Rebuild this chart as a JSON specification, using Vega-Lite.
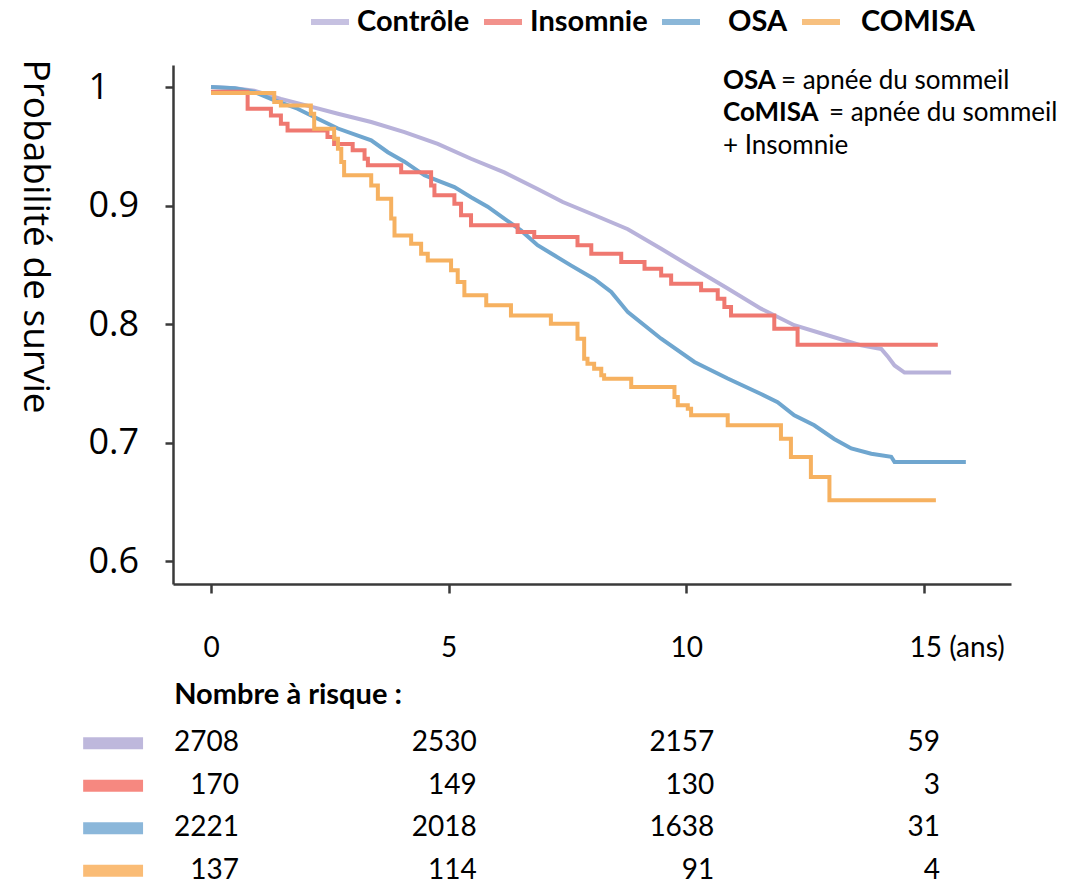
{
  "$schema": "https://vega.github.io/schema/vega-lite/v6.json",
  "background": "white",
  "padding": {"left": 15, "top": 0, "right": 5, "bottom": 0},
  "config": {"view": {"stroke": null}, "font": "Lato"},
  "spacing": 19,
  "resolve": {"scale": {"x": "independent", "y": "independent", "color": "independent"}, "legend": {"color": "independent"}},
  "datasets": {
    "curves": [
      {"group": "Contrôle", "t": 0, "s": 1.0},
      {"group": "Contrôle", "t": 0.5, "s": 0.999},
      {"group": "Contrôle", "t": 0.91, "s": 0.997},
      {"group": "Contrôle", "t": 1.47, "s": 0.990},
      {"group": "Contrôle", "t": 1.96, "s": 0.985},
      {"group": "Contrôle", "t": 2.67, "s": 0.9775},
      {"group": "Contrôle", "t": 3.37, "s": 0.9705},
      {"group": "Contrôle", "t": 4.07, "s": 0.962},
      {"group": "Contrôle", "t": 4.77, "s": 0.952},
      {"group": "Contrôle", "t": 5.47, "s": 0.9395},
      {"group": "Contrôle", "t": 6.17, "s": 0.928},
      {"group": "Contrôle", "t": 6.87, "s": 0.914},
      {"group": "Contrôle", "t": 7.4, "s": 0.903},
      {"group": "Contrôle", "t": 8.06, "s": 0.892},
      {"group": "Contrôle", "t": 8.77, "s": 0.880},
      {"group": "Contrôle", "t": 9.47, "s": 0.8635},
      {"group": "Contrôle", "t": 10.17, "s": 0.8467},
      {"group": "Contrôle", "t": 10.87, "s": 0.830},
      {"group": "Contrôle", "t": 11.57, "s": 0.813},
      {"group": "Contrôle", "t": 12.27, "s": 0.799},
      {"group": "Contrôle", "t": 12.97, "s": 0.7905},
      {"group": "Contrôle", "t": 13.68, "s": 0.782},
      {"group": "Contrôle", "t": 14.1, "s": 0.779},
      {"group": "Contrôle", "t": 14.25, "s": 0.772},
      {"group": "Contrôle", "t": 14.38, "s": 0.765},
      {"group": "Contrôle", "t": 14.59, "s": 0.759},
      {"group": "Contrôle", "t": 15.57, "s": 0.759},
      {"group": "OSA", "t": 0, "s": 1.0},
      {"group": "OSA", "t": 0.5, "s": 0.999},
      {"group": "OSA", "t": 0.91, "s": 0.9958},
      {"group": "OSA", "t": 1.26, "s": 0.990},
      {"group": "OSA", "t": 1.82, "s": 0.9817},
      {"group": "OSA", "t": 2.17, "s": 0.9747},
      {"group": "OSA", "t": 2.67, "s": 0.965},
      {"group": "OSA", "t": 3.09, "s": 0.959},
      {"group": "OSA", "t": 3.37, "s": 0.955},
      {"group": "OSA", "t": 3.72, "s": 0.945},
      {"group": "OSA", "t": 4.07, "s": 0.937},
      {"group": "OSA", "t": 4.49, "s": 0.9255},
      {"group": "OSA", "t": 4.77, "s": 0.921},
      {"group": "OSA", "t": 5.12, "s": 0.9156},
      {"group": "OSA", "t": 5.47, "s": 0.907},
      {"group": "OSA", "t": 5.82, "s": 0.899},
      {"group": "OSA", "t": 6.17, "s": 0.889},
      {"group": "OSA", "t": 6.52, "s": 0.879},
      {"group": "OSA", "t": 6.87, "s": 0.8665},
      {"group": "OSA", "t": 7.22, "s": 0.858},
      {"group": "OSA", "t": 7.57, "s": 0.8495},
      {"group": "OSA", "t": 8.06, "s": 0.838},
      {"group": "OSA", "t": 8.42, "s": 0.827},
      {"group": "OSA", "t": 8.77, "s": 0.810},
      {"group": "OSA", "t": 9.47, "s": 0.7876},
      {"group": "OSA", "t": 10.17, "s": 0.768},
      {"group": "OSA", "t": 10.87, "s": 0.754},
      {"group": "OSA", "t": 11.57, "s": 0.741},
      {"group": "OSA", "t": 11.92, "s": 0.734},
      {"group": "OSA", "t": 12.27, "s": 0.723},
      {"group": "OSA", "t": 12.69, "s": 0.7145},
      {"group": "OSA", "t": 13.11, "s": 0.703},
      {"group": "OSA", "t": 13.47, "s": 0.695},
      {"group": "OSA", "t": 13.89, "s": 0.6905},
      {"group": "OSA", "t": 14.31, "s": 0.688},
      {"group": "OSA", "t": 14.38, "s": 0.6835},
      {"group": "OSA", "t": 15.88, "s": 0.6835},
      {"group": "Insomnie", "t": 0, "s": 0.996},
      {"group": "Insomnie", "t": 0.77, "s": 0.9817},
      {"group": "Insomnie", "t": 1.26, "s": 0.976},
      {"group": "Insomnie", "t": 1.47, "s": 0.969},
      {"group": "Insomnie", "t": 1.61, "s": 0.9634},
      {"group": "Insomnie", "t": 2.45, "s": 0.9578},
      {"group": "Insomnie", "t": 2.59, "s": 0.952},
      {"group": "Insomnie", "t": 2.98, "s": 0.9466},
      {"group": "Insomnie", "t": 3.23, "s": 0.9395},
      {"group": "Insomnie", "t": 3.30, "s": 0.934},
      {"group": "Insomnie", "t": 4.0, "s": 0.928},
      {"group": "Insomnie", "t": 4.63, "s": 0.917},
      {"group": "Insomnie", "t": 4.70, "s": 0.9086},
      {"group": "Insomnie", "t": 5.12, "s": 0.9016},
      {"group": "Insomnie", "t": 5.26, "s": 0.8917},
      {"group": "Insomnie", "t": 5.47, "s": 0.8833},
      {"group": "Insomnie", "t": 6.45, "s": 0.8776},
      {"group": "Insomnie", "t": 6.80, "s": 0.8734},
      {"group": "Insomnie", "t": 7.71, "s": 0.8664},
      {"group": "Insomnie", "t": 8.0, "s": 0.8594},
      {"group": "Insomnie", "t": 8.63, "s": 0.8523},
      {"group": "Insomnie", "t": 9.12, "s": 0.8467},
      {"group": "Insomnie", "t": 9.47, "s": 0.841},
      {"group": "Insomnie", "t": 9.68, "s": 0.834},
      {"group": "Insomnie", "t": 10.31, "s": 0.8284},
      {"group": "Insomnie", "t": 10.66, "s": 0.8214},
      {"group": "Insomnie", "t": 10.80, "s": 0.8143},
      {"group": "Insomnie", "t": 10.94, "s": 0.8073},
      {"group": "Insomnie", "t": 11.85, "s": 0.796},
      {"group": "Insomnie", "t": 12.34, "s": 0.7825},
      {"group": "Insomnie", "t": 15.29, "s": 0.7825},
      {"group": "COMISA", "t": 0, "s": 0.995},
      {"group": "COMISA", "t": 1.33, "s": 0.9873},
      {"group": "COMISA", "t": 1.47, "s": 0.9845},
      {"group": "COMISA", "t": 2.10, "s": 0.9775},
      {"group": "COMISA", "t": 2.17, "s": 0.9648},
      {"group": "COMISA", "t": 2.59, "s": 0.9564},
      {"group": "COMISA", "t": 2.67, "s": 0.948},
      {"group": "COMISA", "t": 2.74, "s": 0.9367},
      {"group": "COMISA", "t": 2.80, "s": 0.9255},
      {"group": "COMISA", "t": 3.37, "s": 0.917},
      {"group": "COMISA", "t": 3.51, "s": 0.9058},
      {"group": "COMISA", "t": 3.79, "s": 0.889},
      {"group": "COMISA", "t": 3.86, "s": 0.8748},
      {"group": "COMISA", "t": 4.21, "s": 0.8678},
      {"group": "COMISA", "t": 4.42, "s": 0.8594},
      {"group": "COMISA", "t": 4.56, "s": 0.8537},
      {"group": "COMISA", "t": 5.05, "s": 0.8453},
      {"group": "COMISA", "t": 5.19, "s": 0.8354},
      {"group": "COMISA", "t": 5.33, "s": 0.8242},
      {"group": "COMISA", "t": 5.79, "s": 0.8158},
      {"group": "COMISA", "t": 6.31, "s": 0.8073},
      {"group": "COMISA", "t": 7.15, "s": 0.8003},
      {"group": "COMISA", "t": 7.71, "s": 0.7876},
      {"group": "COMISA", "t": 7.85, "s": 0.7707},
      {"group": "COMISA", "t": 7.92, "s": 0.7665},
      {"group": "COMISA", "t": 8.06, "s": 0.7623},
      {"group": "COMISA", "t": 8.21, "s": 0.7567},
      {"group": "COMISA", "t": 8.27, "s": 0.7538},
      {"group": "COMISA", "t": 8.84, "s": 0.7468},
      {"group": "COMISA", "t": 9.75, "s": 0.7384},
      {"group": "COMISA", "t": 9.82, "s": 0.7314},
      {"group": "COMISA", "t": 10.03, "s": 0.7285},
      {"group": "COMISA", "t": 10.10, "s": 0.7230},
      {"group": "COMISA", "t": 10.87, "s": 0.7145},
      {"group": "COMISA", "t": 11.99, "s": 0.7032},
      {"group": "COMISA", "t": 12.20, "s": 0.6878},
      {"group": "COMISA", "t": 12.62, "s": 0.6709},
      {"group": "COMISA", "t": 13.01, "s": 0.6512},
      {"group": "COMISA", "t": 15.25, "s": 0.6512}
    ],
    "risk": [
      {"group": "Contrôle", "year": 0, "n": 2708},
      {"group": "Contrôle", "year": 5, "n": 2530},
      {"group": "Contrôle", "year": 10, "n": 2157},
      {"group": "Contrôle", "year": 15, "n": 59},
      {"group": "Insomnie", "year": 0, "n": 170},
      {"group": "Insomnie", "year": 5, "n": 149},
      {"group": "Insomnie", "year": 10, "n": 130},
      {"group": "Insomnie", "year": 15, "n": 3},
      {"group": "OSA", "year": 0, "n": 2221},
      {"group": "OSA", "year": 5, "n": 2018},
      {"group": "OSA", "year": 10, "n": 1638},
      {"group": "OSA", "year": 15, "n": 31},
      {"group": "COMISA", "year": 0, "n": 137},
      {"group": "COMISA", "year": 5, "n": 114},
      {"group": "COMISA", "year": 10, "n": 91},
      {"group": "COMISA", "year": 15, "n": 4}
    ]
  },
  "vconcat": [
    {
      "width": 838,
      "height": 519,
      "layer": [
        {
          "data": {"name": "curves"},
          "transform": [{"filter": "datum.group == 'Contrôle' || datum.group == 'OSA'"}],
          "mark": {"type": "line", "interpolate": "linear", "strokeWidth": 4},
          "encoding": {
            "x": {"field": "t", "type": "quantitative",
              "scale": {"domain": [-0.8, 16.83], "nice": false, "zero": false},
              "axis": {"values": [0, 5, 10, 15], "title": null, "grid": false,
                "domainColor": "#3a3a3a", "domainWidth": 2.5, "tickColor": "#3a3a3a", "tickWidth": 2.5, "tickSize": 9,
                "labelFont": "Lato", "labelFontSize": 28, "labelColor": "black", "labelPadding": 41,
                "labelFlush": false, "labelOverlap": false,
                "labelExpr": "datum.value == 15 ? '15 (ans)' : datum.label",
                "labelAlign": {"condition": {"test": "datum.value == 15", "value": "left"}, "value": "center"},
                "labelOffset": {"condition": {"test": "datum.value == 15", "value": -15}, "value": 0}}},
            "y": {"field": "s", "type": "quantitative",
              "scale": {"domain": [0.5806, 1.0186], "nice": false, "zero": false},
              "axis": {"values": [0.6, 0.7, 0.8, 0.9, 1], "grid": false,
                "title": "Probabilité de survie", "titleFont": "Open Sans", "titleFontSize": 37, "titleFontWeight": "normal",
                "titleColor": "black", "titleAngle": 90, "titleX": -150, "titleY": 171, "titleAlign": "center", "titleBaseline": "alphabetic",
                "domainColor": "#3a3a3a", "domainWidth": 2.5, "tickColor": "#3a3a3a", "tickWidth": 2.5, "tickSize": 8,
                "labelFont": "Open Sans", "labelFontSize": 36, "labelColor": "black", "labelAlign": "left", "labelPadding": 77,
                "labelBaseline": "middle", "labelFlush": false, "labelOverlap": false,
                "labelExpr": "datum.value == 1 ? '1' : format(datum.value, '.1f')"}},
            "color": {"field": "group", "type": "nominal",
              "scale": {"domain": ["Contrôle", "Insomnie", "OSA", "COMISA"], "range": ["#b8b2da", "#ef7870", "#6fa6cf", "#f6b160"]},
              "legend": {"orient": "none", "legendX": 135, "legendY": -65, "direction": "horizontal", "title": null,
                "symbolType": "stroke", "symbolStrokeWidth": 6, "symbolSize": 1444, "symbolOpacity": 0.8,
                "labelFont": "Lato", "labelFontSize": 29, "labelFontWeight": "bold", "labelColor": "black",
                "labelOffset": 5, "columnPadding": 2, "padding": 0,
                "encode": {"labels": {"update": {"dx": {"signal": "datum.label == 'OSA' ? 20 : (datum.label == 'COMISA' ? 13 : 0)"}}}}}}
          }
        },
        {
          "data": {"name": "curves"},
          "transform": [{"filter": "datum.group == 'Insomnie' || datum.group == 'COMISA'"}],
          "mark": {"type": "line", "interpolate": "step-after", "strokeWidth": 4},
          "encoding": {
            "x": {"field": "t", "type": "quantitative"},
            "y": {"field": "s", "type": "quantitative"},
            "color": {"field": "group", "type": "nominal"}
          }
        },
        {
          "data": {"values": [{}]},
          "mark": {"type": "text", "text": "OSA", "font": "Lato", "fontSize": 26, "fontWeight": "bold", "align": "left", "baseline": "middle", "color": "black"},
          "encoding": {"x": {"datum": 10.77}, "y": {"datum": 1.0055}}
        },
        {
          "data": {"values": [{}]},
          "mark": {"type": "text", "text": "= apnée du sommeil", "font": "Lato", "fontSize": 26, "align": "left", "baseline": "middle", "color": "black", "dx": 58},
          "encoding": {"x": {"datum": 10.77}, "y": {"datum": 1.0055}}
        },
        {
          "data": {"values": [{}]},
          "mark": {"type": "text", "text": "CoMISA", "font": "Lato", "fontSize": 26, "fontWeight": "bold", "align": "left", "baseline": "middle", "color": "black"},
          "encoding": {"x": {"datum": 10.77}, "y": {"datum": 0.978}}
        },
        {
          "data": {"values": [{}]},
          "mark": {"type": "text", "text": "= apnée du sommeil", "font": "Lato", "fontSize": 26, "align": "left", "baseline": "middle", "color": "black", "dx": 106},
          "encoding": {"x": {"datum": 10.77}, "y": {"datum": 0.978}}
        },
        {
          "data": {"values": [{}]},
          "mark": {"type": "text", "text": "+ Insomnie", "font": "Lato", "fontSize": 26, "align": "left", "baseline": "middle", "color": "black"},
          "encoding": {"x": {"datum": 10.77}, "y": {"datum": 0.9505}}
        }
      ]
    },
    {
      "width": 838,
      "height": 170,
      "data": {"name": "risk"},
      "title": {"text": "Nombre à risque :", "anchor": "start", "font": "Lato", "fontSize": 29, "fontWeight": "bold", "color": "black", "offset": 12, "dx": 97},
      "layer": [
        {
          "transform": [{"filter": "datum.year == 0"}],
          "mark": {"type": "rule", "strokeWidth": 12, "opacity": 0.85},
          "encoding": {
            "x": {"datum": -2.69, "type": "quantitative", "scale": {"domain": [-0.8, 16.83], "nice": false, "zero": false}, "axis": null},
            "x2": {"datum": -1.43},
            "y": {"field": "group", "type": "nominal", "scale": {"type": "point", "padding": 0.5, "domain": ["Contrôle", "Insomnie", "OSA", "COMISA"]}, "axis": null},
            "color": {"field": "group", "type": "nominal",
              "scale": {"domain": ["Contrôle", "Insomnie", "OSA", "COMISA"], "range": ["#b3acd6", "#f4736a", "#77aad3", "#f9b05e"]},
              "legend": null}
          }
        },
        {
          "transform": [{"filter": "datum.year < 15"}],
          "mark": {"type": "text", "align": "right", "baseline": "middle", "dx": 28, "font": "Lato", "fontSize": 28, "color": "black"},
          "encoding": {
            "x": {"field": "year", "type": "quantitative", "scale": {"domain": [-0.8, 16.83], "nice": false, "zero": false}, "axis": null},
            "y": {"field": "group", "type": "nominal", "axis": null},
            "text": {"field": "n", "type": "quantitative", "format": "d"}
          }
        },
        {
          "transform": [{"filter": "datum.year == 15"}],
          "mark": {"type": "text", "align": "right", "baseline": "middle", "dx": 16, "font": "Lato", "fontSize": 28, "color": "black"},
          "encoding": {
            "x": {"field": "year", "type": "quantitative", "axis": null},
            "y": {"field": "group", "type": "nominal", "axis": null},
            "text": {"field": "n", "type": "quantitative", "format": "d"}
          }
        }
      ]
    }
  ]
}
